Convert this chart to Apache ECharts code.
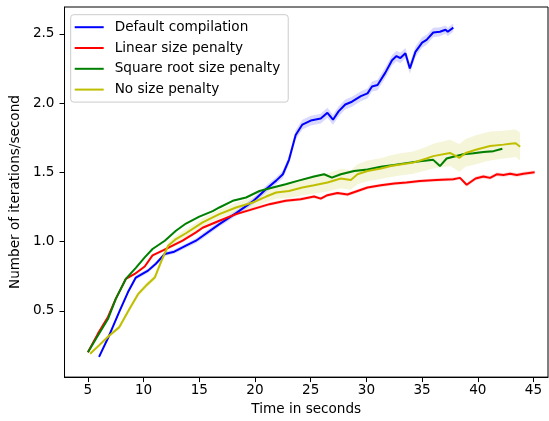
<!DOCTYPE html>
<html>
<head>
<meta charset="utf-8">
<script src="https://cdn.jsdelivr.net/npm/echarts@6/dist/echarts.min.js"></script>
<style>html,body{margin:0;padding:0;background:#fff}#c{width:549px;height:421px}</style>
</head>
<body>
<div id="c"></div>
<script>
var xTicks = [5, 10, 15, 20, 25, 30, 35, 40, 45];
var yTicks = [0.5, 1.0, 1.5, 2.0, 2.5];
var seriesNames = ['Default compilation', 'Linear size penalty', 'Square root size penalty', 'No size penalty'];
var seriesColors = ['#0000ff', '#ff0000', '#008000', '#bfbf00'];

var defaultX = [6.0, 6.9, 7.8, 8.6, 9.3, 10.4, 11.1, 11.9, 12.75, 13.8, 14.7, 15.3, 16.8, 18.3, 19.8, 21.0, 21.9, 22.5, 23.05, 23.65, 24.25, 25.0, 25.9, 26.5, 27.0, 27.5, 28.1, 28.7, 29.5, 30.1, 30.5, 31.0, 31.7, 32.3, 32.7, 33.05, 33.5, 33.9, 34.4, 35.0, 35.4, 36.0, 36.6, 37.1, 37.3, 37.8];
var defaultY = [0.167, 0.32, 0.49, 0.635, 0.74, 0.79, 0.84, 0.91, 0.927, 0.97, 1.006, 1.04, 1.126, 1.205, 1.29, 1.38, 1.44, 1.486, 1.59, 1.77, 1.845, 1.874, 1.888, 1.93, 1.88, 1.94, 1.99, 2.01, 2.05, 2.07, 2.12, 2.13, 2.22, 2.31, 2.34, 2.325, 2.36, 2.25, 2.37, 2.437, 2.457, 2.51, 2.515, 2.53, 2.515, 2.545];
var defaultBand = [0.01, 0.012, 0.012, 0.014, 0.015, 0.015, 0.015, 0.015, 0.015, 0.016, 0.018, 0.02, 0.02, 0.02, 0.022, 0.025, 0.025, 0.028, 0.032, 0.035, 0.035, 0.035, 0.035, 0.036, 0.036, 0.036, 0.036, 0.036, 0.036, 0.036, 0.036, 0.038, 0.038, 0.038, 0.038, 0.038, 0.038, 0.038, 0.038, 0.038, 0.036, 0.034, 0.032, 0.03, 0.03, 0.03];

var linearX = [5.0, 5.9, 6.8, 7.5, 8.4, 9.2, 10.1, 10.8, 11.7, 12.6, 13.5, 14.7, 15.3, 16.8, 18.3, 19.8, 21.3, 22.75, 24.1, 25.3, 25.9, 26.5, 27.4, 28.3, 29.2, 30.1, 31.3, 32.5, 33.6, 34.8, 36.3, 37.8, 38.4, 39.0, 39.8, 40.5, 41.1, 41.7, 42.3, 42.9, 43.5, 44.1, 45.1];
var linearY = [0.2, 0.335, 0.455, 0.586, 0.73, 0.766, 0.82, 0.90, 0.934, 0.97, 1.006, 1.066, 1.10, 1.15, 1.198, 1.234, 1.27, 1.294, 1.306, 1.325, 1.31, 1.335, 1.35, 1.34, 1.365, 1.39, 1.406, 1.419, 1.426, 1.437, 1.445, 1.45, 1.46, 1.41, 1.455, 1.47, 1.46, 1.486, 1.48, 1.49, 1.48, 1.49, 1.50];
var linearBand = [0.008, 0.008, 0.008, 0.008, 0.008, 0.008, 0.01, 0.01, 0.01, 0.01, 0.01, 0.01, 0.01, 0.01, 0.01, 0.012, 0.012, 0.012, 0.012, 0.012, 0.012, 0.012, 0.012, 0.012, 0.012, 0.012, 0.012, 0.012, 0.012, 0.012, 0.012, 0.012, 0.012, 0.014, 0.014, 0.014, 0.014, 0.014, 0.014, 0.014, 0.014, 0.014, 0.014];

var sqrtX = [5.0, 5.74, 6.8, 7.5, 8.4, 9.3, 10.1, 10.8, 11.9, 12.9, 13.8, 15.0, 16.2, 16.8, 18.0, 19.2, 20.4, 21.6, 22.75, 23.9, 25.3, 26.2, 26.9, 27.7, 28.9, 30.1, 31.3, 32.5, 33.9, 34.8, 36.0, 36.6, 37.2, 37.8, 38.7, 39.6, 40.5, 41.4, 42.2];
var sqrtY = [0.2, 0.30, 0.44, 0.586, 0.73, 0.81, 0.886, 0.946, 1.006, 1.078, 1.13, 1.18, 1.22, 1.246, 1.294, 1.318, 1.365, 1.39, 1.414, 1.44, 1.47, 1.486, 1.462, 1.486, 1.51, 1.52, 1.54, 1.553, 1.57, 1.58, 1.59, 1.545, 1.60, 1.613, 1.63, 1.637, 1.646, 1.653, 1.67];
var sqrtBand = [0.006, 0.006, 0.006, 0.006, 0.006, 0.006, 0.006, 0.006, 0.006, 0.006, 0.006, 0.006, 0.006, 0.006, 0.006, 0.006, 0.006, 0.006, 0.006, 0.006, 0.008, 0.008, 0.008, 0.008, 0.008, 0.008, 0.008, 0.008, 0.008, 0.008, 0.008, 0.008, 0.008, 0.008, 0.008, 0.008, 0.008, 0.008, 0.008];

var noPenaltyX = [5.2, 6.0, 6.9, 7.8, 8.7, 9.5, 10.2, 11.0, 11.6, 12.2, 12.9, 13.8, 15.3, 16.8, 18.3, 19.8, 21.0, 21.9, 23.05, 24.25, 25.3, 26.5, 27.7, 28.6, 29.2, 30.1, 31.3, 32.2, 33.05, 34.2, 35.4, 36.0, 37.5, 38.35, 38.9, 39.9, 41.1, 42.3, 42.9, 43.4, 43.8];
var noPenaltyY = [0.19, 0.25, 0.32, 0.38, 0.51, 0.62, 0.68, 0.74, 0.86, 0.97, 1.018, 1.06, 1.138, 1.198, 1.246, 1.282, 1.325, 1.354, 1.365, 1.39, 1.406, 1.426, 1.455, 1.445, 1.486, 1.51, 1.527, 1.545, 1.557, 1.57, 1.60, 1.617, 1.64, 1.605, 1.64, 1.665, 1.69, 1.70, 1.706, 1.71, 1.685];
var noPenaltyBand = [0.01, 0.012, 0.015, 0.015, 0.018, 0.02, 0.02, 0.02, 0.022, 0.025, 0.025, 0.028, 0.03, 0.032, 0.035, 0.038, 0.04, 0.045, 0.05, 0.055, 0.06, 0.065, 0.07, 0.07, 0.072, 0.075, 0.075, 0.078, 0.08, 0.08, 0.085, 0.09, 0.095, 0.1, 0.1, 0.105, 0.105, 0.1, 0.1, 0.1, 0.1];

var xsAll = [defaultX, linearX, sqrtX, noPenaltyX];
var ysAll = [defaultY, linearY, sqrtY, noPenaltyY];
var bandsAll = [defaultBand, linearBand, sqrtBand, noPenaltyBand];

var FONT = 'DejaVu Sans';
var FS = 13.6;

function makeBand(i) {
  var xs = xsAll[i], ys = ysAll[i], bw = bandsAll[i], col = seriesColors[i];
  return {
    type: 'custom',
    name: seriesNames[i] + ' band',
    silent: true,
    z: 1,
    data: [[xs[0], ys[0]]],
    renderItem: function (params, api) {
      var pts = [];
      for (var k = 0; k < xs.length; k++) pts.push(api.coord([xs[k], ys[k] + bw[k]]));
      for (var k2 = xs.length - 1; k2 >= 0; k2--) pts.push(api.coord([xs[k2], ys[k2] - bw[k2]]));
      return {
        type: 'polygon',
        shape: { points: pts },
        style: { fill: col, opacity: 0.15 }
      };
    }
  };
}

function makeLine(i) {
  var xs = xsAll[i], ys = ysAll[i];
  var d = [];
  for (var k = 0; k < xs.length; k++) d.push([xs[k], ys[k]]);
  return {
    type: 'line',
    name: seriesNames[i],
    data: d,
    showSymbol: false,
    symbol: 'none',
    smooth: false,
    z: 3,
    color: seriesColors[i],
    lineStyle: { width: 2, color: seriesColors[i] }
  };
}

var series = [];
for (var i = 0; i < 4; i++) { series.push(makeBand(i)); series.push(makeLine(i)); }

var chart = echarts.init(document.getElementById('c'), null, { renderer: 'canvas' });
chart.setOption({
  animation: false,
  backgroundColor: '#fff',
  textStyle: { fontFamily: FONT },
  grid: { left: 63, right: 1, top: 7, bottom: 42, show: true, borderColor: '#000', borderWidth: 1, backgroundColor: 'transparent' },
  legend: {
    data: seriesNames,
    orient: 'vertical',
    left: 70.7,
    top: 14.7,
    padding: [5, 8, 5, 4],
    itemGap: 5.8,
    itemWidth: 29,
    itemHeight: 2,
    icon: 'rect',
    backgroundColor: 'rgba(255,255,255,0.8)',
    borderColor: '#cccccc',
    borderWidth: 1,
    borderRadius: 3,
    textStyle: { fontFamily: FONT, fontSize: FS, color: '#000', lineHeight: 15, padding: [0, 0, 0, 6] }
  },
  xAxis: {
    type: 'value',
    min: 2.9,
    max: 46.3,
    name: 'Time in seconds',
    nameLocation: 'middle',
    nameGap: 23,
    nameTextStyle: { fontFamily: FONT, fontSize: FS, color: '#000' },
    axisLine: { show: true, onZero: false, lineStyle: { color: '#000', width: 1 } },
    axisTick: { show: true, inside: false, length: 5, customValues: xTicks, lineStyle: { color: '#000' } },
    axisLabel: { customValues: xTicks, margin: 6, fontFamily: FONT, fontSize: FS, color: '#000' },
    splitLine: { show: false }
  },
  yAxis: {
    type: 'value',
    min: 0.021,
    max: 2.694,
    name: 'Number of iterations/second',
    nameLocation: 'middle',
    nameGap: 37,
    nameTextStyle: { fontFamily: FONT, fontSize: FS, color: '#000' },
    axisLine: { show: true, onZero: false, lineStyle: { color: '#000', width: 1 } },
    axisTick: { show: true, inside: false, length: 5, customValues: yTicks, lineStyle: { color: '#000' } },
    axisLabel: { customValues: yTicks, margin: 10, fontFamily: FONT, fontSize: FS, color: '#000', formatter: function (v) { return v.toFixed(1); } },
    splitLine: { show: false }
  },
  series: series
});
</script>
</body>
</html>
